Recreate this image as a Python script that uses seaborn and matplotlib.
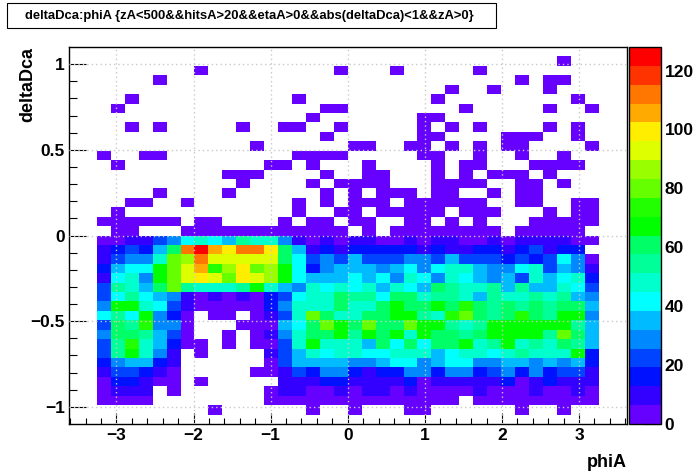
import matplotlib
matplotlib.use("Agg")
import matplotlib.pyplot as plt
import numpy as np
import pandas as pd
import seaborn as sns
from matplotlib.colors import ListedColormap
from matplotlib.patches import Rectangle

title_text = "deltaDca:phiA {zA<500&&hitsA>20&&etaA>0&&abs(deltaDca)<1&&zA>0}"
x_label = "phiA"
y_label = "deltaDca"

# histogram range, 40 x 40 bins
phi_range = (-3.615, 3.615)
dca_range = (1.1, -1.1)
z_max = 128

x_major = [-3, -2, -1, 0, 1, 2, 3]
x_major_labels = ["\u22123", "\u22122", "\u22121", "0", "1", "2", "3"]
y_major = [1, 0.5, 0, -0.5, -1]
y_major_labels = ["1", "0.5", "0", "\u22120.5", "\u22121"]
z_ticks = [0, 20, 40, 60, 80, 100, 120]

palette = [
    "#6600ff", "#3300ff", "#0011ff", "#0044ff", "#0088ff",
    "#00bbff", "#00ffff", "#00ffcc", "#00ff99", "#00ff66",
    "#00ff00", "#22ff00", "#66ff00", "#99ff00", "#ddff00",
    "#ffee00", "#ffaa00", "#ff7700", "#ff3300", "#ff0000",
]

# counts, top row (dca = 1.1) first
row_00 = [0] * 40
row_01 = [0,0,0,0,0,0,0,0,0,0, 0,0,0,0,0,0,0,0,0,0, 0,0,0,0,0,0,0,0,0,0, 0,0,0,0,0,1,0,0,0,0]
row_02 = [0,0,0,0,0,0,0,0,0,1, 0,0,0,0,0,0,0,0,0,1, 0,0,0,1,0,0,0,0,0,1, 0,0,0,0,0,0,0,0,0,0]
row_03 = [0,0,0,0,0,0,1,0,0,0, 0,0,0,0,0,0,0,0,0,0, 0,0,0,0,0,0,0,0,0,0, 0,0,1,0,1,1,0,0,0,0]
row_04 = [0,0,0,0,0,0,0,0,0,0, 0,0,0,0,0,0,0,0,0,0, 0,0,0,0,0,0,0,1,0,0, 1,0,0,0,1,0,0,0,0,0]
row_05 = [0,0,0,0,1,0,0,0,0,0, 0,0,0,0,0,0,1,0,0,0, 0,0,0,0,0,0,1,0,0,0, 0,0,0,0,0,0,1,0,0,0]
row_06 = [0,0,0,1,0,0,0,0,0,0, 0,0,0,0,0,0,0,0,1,1, 0,0,0,0,0,0,0,0,1,0, 0,0,0,0,1,0,0,1,0,0]
row_07 = [0,0,0,0,0,0,0,0,0,0, 0,0,0,0,0,0,0,1,0,0, 0,0,0,0,0,1,1,0,0,0, 0,0,0,0,0,0,0,0,0,0]
row_08 = [0,0,0,0,1,0,1,0,0,0, 0,0,1,0,0,1,1,0,0,1, 0,0,0,0,0,1,0,1,0,1, 0,0,0,0,1,0,1,0,0,0]
row_09 = [0,0,0,0,0,0,0,0,0,0, 0,0,0,0,0,0,0,0,1,0, 0,0,0,0,0,1,1,0,0,0, 0,1,1,1,0,0,1,0,0,0]
row_10 = [0,0,0,0,0,0,0,0,0,0, 0,0,0,1,0,0,0,0,0,0, 1,1,0,0,1,1,0,1,0,1, 0,1,1,0,0,0,0,1,0,0]
row_11 = [0,0,1,0,0,1,1,0,0,0, 0,0,0,0,0,0,1,1,1,1, 0,0,0,0,0,1,1,0,0,1, 0,0,1,0,0,1,0,0,0,0]
row_12 = [0,0,0,1,0,0,0,0,0,0, 0,0,0,0,1,1,0,1,0,0, 0,1,0,0,0,0,1,0,1,1, 0,0,0,1,1,1,1,0,0,0]
row_13 = [0,0,0,0,0,0,0,0,0,0, 0,1,1,1,0,0,0,0,1,0, 0,1,1,0,0,0,1,0,1,0, 1,1,1,0,1,0,0,0,0,0]
row_14 = [0,0,0,0,0,0,0,0,0,0, 0,0,1,0,0,0,0,1,0,1, 1,1,1,0,0,0,1,1,1,1, 0,0,1,1,0,1,0,0,0,0]
row_15 = [0,0,0,0,0,0,1,0,0,0, 0,1,0,0,0,0,0,0,1,0, 1,0,1,1,1,0,1,1,0,0, 1,0,1,1,0,0,0,0,0,0]
row_16 = [0,0,0,0,1,1,0,0,1,0, 0,0,0,0,0,0,1,0,1,0, 1,1,1,0,1,1,1,1,1,1, 0,0,1,1,0,0,1,1,0,0]
row_17 = [0,0,0,1,0,0,0,0,0,0, 0,0,0,0,0,0,1,0,0,1, 1,0,1,1,1,1,1,0,1,1, 1,0,0,0,1,0,1,1,0,0]
row_18 = [0,0,1,1,1,1,1,1,0,1, 1,0,0,0,0,1,0,1,1,0, 1,1,0,0,1,1,0,1,0,1, 0,0,0,1,1,1,1,1,0,0]
row_19 = [0,0,0,1,1,0,0,0,1,1, 1,1,1,1,1,1,1,1,1,1, 0,1,0,1,1,1,1,1,1,1, 1,0,1,1,1,1,1,0,0,0]
row_20 = [0,0, 3,3,10,10,22,29,42,48,42,35,54,48,48,29,10,3,10,3, 10,10,3,3,10,3,10,10,3,3,10,3,10,10,10,10,3,3, 0,0]
row_21 = [0,0, 10,16,22,16,35,61,112,125,106,99,112,112,99,61,35,10,16,10, 16,16,16,16,16,10,16,10,10,16,16,10,16,22,10,16,16,0, 0,0]
row_22 = [0,0, 10,22,29,29,48,80,86,112,93,93,93,93,93,61,42,22,29,22, 35,22,22,22,29,29,22,35,22,22,22,16,22,16,22,42,29,3, 0,0]
row_23 = [0,0, 16,35,42,42,67,80,93,106,74,86,99,80,86,67,42,16,29,35, 35,35,29,35,42,29,42,48,48,35,29,29,42,48,22,35,29,10, 0,0]
row_24 = [0,0, 10,42,48,29,67,80,93,99,93,80,99,93,86,67,42,35,35,35, 42,35,42,29,48,42,29,48,42,35,29,35,22,48,35,42,48,16, 0,0]
row_25 = [0,0, 22,54,48,35,61,80,54,48,48,48,54,67,48,35,29,48,42,48, 42,48,35,48,42,35,61,54,48,48,54,35,54,35,35,48,42,22, 0,0]
row_26 = [0,0, 22,42,54,42,35,29,10,3,10,3,10,3,16,22,42,48,48,61, 54,54,42,61,61,48,54,54,48,35,54,48,48,54,48,54,35,29, 0,0]
row_27 = [0,0, 29,67,67,48,42,22,10,3,3,3,3,3,16,29,48,48,48,61, 48,48,61,67,61,61,67,61,74,61,54,61,54,61,54,61,61,35, 0,0]
row_28 = [0,0, 42,54,42,67,29,16,3,0,3,3,0,3,10,22,48,80,61,48, 48,61,61,67,67,54,48,74,80,61,54,61,74,61,54,67,67,29, 0,0]
row_29 = [0,0, 22,61,54,74,29,29,3,0,0,0,3,3,3,35,42,61,80,67, 61,80,61,61,80,67,67,54,48,54,67,67,67,67,67,67,54,35, 0,0]
row_30 = [0,0, 29,61,61,54,35,22,3,0,0,3,0,3,10,29,48,61,61,67, 54,67,61,67,48,67,61,61,54,61,67,67,67,67,54,80,61,35, 0,0]
row_31 = [0,0, 22,54,74,48,35,16,3,3,0,3,0,3,3,22,48,67,48,48, 48,35,61,42,61,42,61,61,67,48,54,67,48,54,48,61,54,35, 0,0]
row_32 = [0,0, 22,54,67,48,29,10,0,3,0,0,0,0,10,22,35,48,42,48, 48,42,42,48,48,48,35,42,48,48,42,48,54,48,48,48,67,16, 0,0]
row_33 = [0,0, 16,29,35,35,16,10,0,0,0,0,0,0,3,22,35,35,35,35, 29,29,35,42,42,29,35,42,42,29,29,35,35,29,35,29,35,16, 0,0]
row_34 = [0,0, 10,22,22,16,10,3,0,0,0,0,0,3,3,10,22,16,29,29, 16,10,16,16,29,29,16,29,29,16,22,29,16,29,16,22,22,10, 0,0]
row_35 = [0,0, 3,16,16,10,3,3,0,3,0,0,0,0,0,10,10,10,16,16, 10,10,10,10,16,3,10,10,10,10,10,16,3,10,16,10,10,10, 0,0]
row_36 = [0,0, 3,10,10,10,0,3,0,0,0,0,0,0,3,10,10,3,3,10, 3,10,10,3,10,3,3,3,3,10,3,3,3,10,3,3,10,3, 0,0]
row_37 = [0,0, 3,3,3,3,0,0,0,0,0,0,0,0,3,3,3,3,3,3, 3,3,3,3,3,3,3,3,0,3,3,3,3,3,3,3,3,3, 0,0]
row_38 = [0,0,0,0,0,0,0,0,0,0, 2,0,0,0,0,0,0,2,0,0, 2,0,0,0,2,2,0,0,0,0, 0,0,2,0,0,2,0,0,0,0]
row_39 = [0] * 40

rows = [
    row_00, row_01, row_02, row_03, row_04, row_05, row_06, row_07, row_08, row_09,
    row_10, row_11, row_12, row_13, row_14, row_15, row_16, row_17, row_18, row_19,
    row_20, row_21, row_22, row_23, row_24, row_25, row_26, row_27, row_28, row_29,
    row_30, row_31, row_32, row_33, row_34, row_35, row_36, row_37, row_38, row_39,
]

sns.set_style("white")
plt.rcParams["font.family"] = ["Liberation Sans", "DejaVu Sans"]
plt.rcParams["font.weight"] = "bold"
plt.rcParams["axes.labelweight"] = "bold"
plt.rcParams["text.color"] = "black"
plt.rcParams["axes.labelcolor"] = "black"
plt.rcParams["xtick.color"] = "black"
plt.rcParams["ytick.color"] = "black"
plt.rcParams["axes.edgecolor"] = "black"

W, H = 696, 472
fig = plt.figure(figsize=(W / 100, H / 100), dpi=100)
ax = fig.add_axes([69 / W, 1 - 424 / H, 557.5 / W, 377 / H])
cax = fig.add_axes([629 / W, 1 - 424 / H, 32.3 / W, 377 / H])

counts = pd.DataFrame(rows)
sns.heatmap(
    counts,
    mask=counts == 0,
    cmap=ListedColormap(palette),
    vmin=0,
    vmax=z_max,
    ax=ax,
    cbar_ax=cax,
    xticklabels=False,
    yticklabels=False,
)


def to_x(v):
    return (np.asarray(v) - phi_range[0]) / (phi_range[1] - phi_range[0]) * counts.shape[1]


def to_y(v):
    return (np.asarray(v) - dca_range[0]) / (dca_range[1] - dca_range[0]) * counts.shape[0]


ax.set_xticks(to_x(x_major))
ax.set_xticklabels(x_major_labels, rotation=0)
ax.set_yticks(to_y(y_major))
ax.set_yticklabels(y_major_labels, rotation=0)
ax.set_xticks(to_x(np.arange(-3.6, 3.61, 0.2)), minor=True)
ax.set_yticks(to_y(np.arange(-1.0, 1.01, 0.1)), minor=True)

ax.tick_params(axis="x", which="major", direction="in", bottom=True, length=8, width=0.8, labelsize=12.5, pad=3)
ax.tick_params(axis="x", which="minor", direction="in", bottom=True, length=4, width=0.8)
ax.tick_params(axis="y", which="major", direction="in", left=True, length=12, width=0.8, labelsize=12.5, pad=3)
ax.tick_params(axis="y", which="minor", direction="in", left=True, length=6, width=0.8)

for v in x_major:
    ax.axvline(to_x(v), color="#c8c8c8", lw=1, ls=(0, (1, 2.2)), zorder=5)
for v in y_major:
    ax.axhline(to_y(v), color="#c8c8c8", lw=1, ls=(0, (1, 2.2)), zorder=5)

for side in ["left", "bottom", "top", "right"]:
    ax.spines[side].set_visible(True)
    ax.spines[side].set_linewidth(1)
    ax.spines[side].set_color("black")

ax.set_xlabel(x_label, fontsize=13, loc="right", labelpad=8)
ax.set_ylabel(y_label, fontsize=13, loc="top")
ax.yaxis.set_label_coords(-0.058, 1.0)

cbar = ax.collections[0].colorbar
cbar.set_ticks(z_ticks)
cbar.ax.tick_params(direction="in", right=True, length=12, width=0.8, labelsize=12.5, pad=2.5, color="black")
cbar.outline.set_visible(True)
cbar.outline.set_linewidth(1)
cbar.outline.set_edgecolor("black")

fig.add_artist(Rectangle((7 / W, 1 - 28 / H), 489 / W, 25 / H, transform=fig.transFigure,
                         facecolor="white", edgecolor="black", lw=0.8))
fig.text(249.5 / W, 1 - 15.5 / H, title_text, ha="center", va="center", fontsize=9.4)

fig.savefig("out.png", dpi=100)
